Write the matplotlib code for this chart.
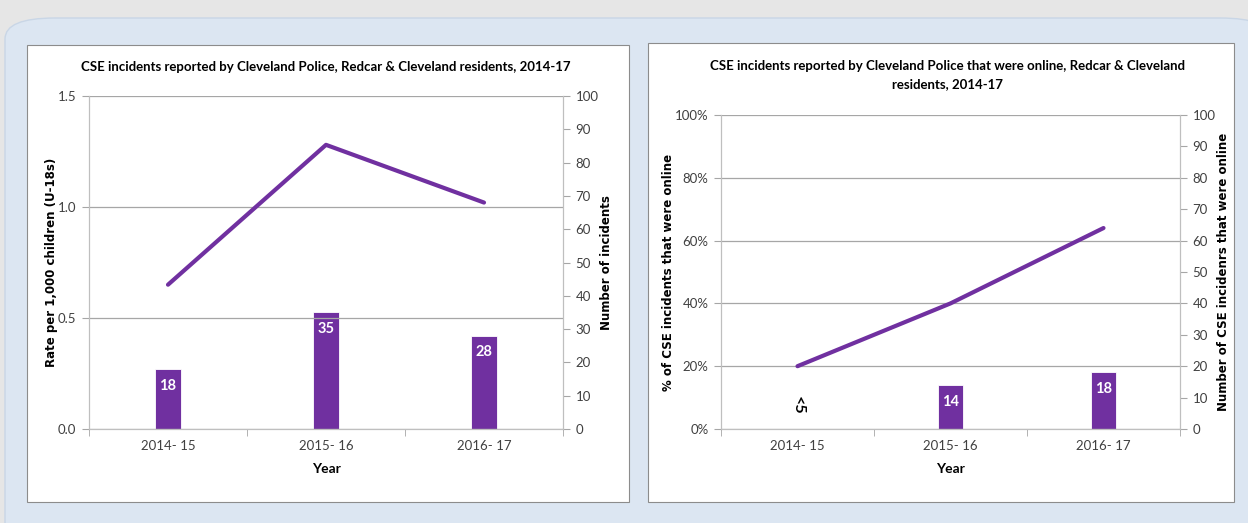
import matplotlib.pyplot as plt
from matplotlib.patches import FancyBboxPatch, Rectangle

# Data
years = ['2014- 15', '2015- 16', '2016- 17']
rate_per_1000 = [0.65, 1.28, 1.02]
incidents = [18, 35, 28]
pct_online = [0.20, 0.40, 0.64]
online_incidents = [0, 14, 18]
online_labels = ['<5', '14', '18']

purple = '#7030a0'
grid_c = '#a6a6a6'
tick_c = '#404040'
narrow = ['Lato', 'DejaVu Sans']

fig = plt.figure(figsize=(12.48, 5.23), dpi=100)
fig.patch.set_facecolor('#e6e6e6')
W, H = 1248, 523


def box(x0, y0, x1, y1):
    return (x0 / W, 1 - y1 / H, (x1 - x0) / W, (y1 - y0) / H)


# blue rounded background
bx = box(5, 18, 1270, 560)
fig.patches.append(FancyBboxPatch((bx[0], bx[1]), bx[2], bx[3],
                                  boxstyle='round,pad=0,rounding_size=0.04',
                                  transform=fig.transFigure, facecolor='#dce6f2',
                                  edgecolor='#c9d6e6', lw=1, zorder=-3))
for b in [box(27, 45, 629, 502), box(648, 43, 1234, 502)]:
    fig.patches.append(Rectangle((b[0], b[1]), b[2], b[3], transform=fig.transFigure,
                                 facecolor='white', edgecolor='#8c8c8c', lw=0.8, zorder=-2))


def style(ax, ax2, ymax_left, left_ticks, left_fmt):
    ax.set_xlim(-0.5, 2.5)
    ax.set_ylim(0, ymax_left)
    ax2.set_ylim(0, 100)
    ax.set_yticks(left_ticks)
    ax.set_yticklabels([left_fmt(t) for t in left_ticks], family=narrow, fontsize=9.5, color=tick_c)
    ax2.set_yticks(range(0, 101, 10))
    ax2.set_yticklabels([str(t) for t in range(0, 101, 10)], family=narrow, fontsize=9.5, color=tick_c)
    ax.set_xticks(range(3))
    ax.set_xticklabels(years, family=narrow, fontsize=9.5, color=tick_c)
    ax.set_xticks([-0.5, 0.5, 1.5, 2.5], minor=True)
    ax.tick_params(axis='x', which='major', length=0, pad=8)
    ax.tick_params(axis='x', which='minor', length=5, color=grid_c)
    ax.tick_params(axis='y', length=5, color=grid_c, pad=4)
    ax2.tick_params(axis='y', length=5, color=grid_c, pad=4)
    ax.grid(axis='y', color=grid_c, lw=0.9)
    for a in (ax, ax2):
        a.spines['top'].set_visible(False)
        for s in ('left', 'bottom', 'right'):
            a.spines[s].set_color('#bfbfbf')
    ax.set_xlabel('Year', family=narrow, fontsize=10, fontweight='bold', labelpad=8)
    ax.set_zorder(ax2.get_zorder() + 1)
    ax.patch.set_visible(False)
    ax2.patch.set_visible(False)


def bar_labels(ax2, vals, labels):
    for i, (v, lab) in enumerate(zip(vals, labels)):
        if v > 0:
            ax2.annotate(lab, (i, v), xytext=(0, -12), textcoords='offset points',
                         ha='center', va='center', color='white', fontsize=10.5,
                         fontweight='bold', family=narrow)
        else:
            ax2.text(i, 7.5, lab, ha='center', va='center', rotation=270, color='black',
                     fontsize=11.5, fontweight='bold', family=narrow)


# Left chart
ax1 = fig.add_axes([89 / W, 1 - 429 / H, 474 / W, 333 / H])
ax1b = ax1.twinx()
ax1b.bar(range(3), incidents, width=0.165, color=purple, edgecolor='white', lw=0.6)
ax1.plot(range(3), rate_per_1000, color=purple, lw=3, solid_capstyle='round')
style(ax1, ax1b, 1.5, [0, 0.5, 1.0, 1.5], lambda t: f'{t:.1f}')
bar_labels(ax1b, incidents, [str(v) for v in incidents])
ax1.set_ylabel('Rate per 1,000 children (U-18s)', fontsize=8.5, fontweight='bold', labelpad=0)
ax1b.set_ylabel('Number of incidents', fontsize=8.5, fontweight='bold', labelpad=1)
fig.text(326 / W, 1 - 67 / H,
         'CSE incidents reported by Cleveland Police, Redcar & Cleveland residents, 2014-17',
         ha='center', va='center', family=narrow, fontsize=9.5, fontweight='bold')

# Right chart
ax2 = fig.add_axes([721 / W, 1 - 429 / H, 459 / W, 314 / H])
ax2b = ax2.twinx()
ax2b.bar(range(3), online_incidents, width=0.165, color=purple, edgecolor='white', lw=0.6)
ax2.plot(range(3), pct_online, color=purple, lw=3, solid_capstyle='round')
style(ax2, ax2b, 1.0, [0, 0.2, 0.4, 0.6, 0.8, 1.0], lambda t: f'{t:.0%}')
bar_labels(ax2b, online_incidents, online_labels)
ax2.set_ylabel('% of CSE incidents that were online', fontsize=8.5, fontweight='bold', labelpad=0)
ax2b.set_ylabel('Number of CSE incidenrs that were online', fontsize=8.5, fontweight='bold', labelpad=1)
fig.text(947 / W, 1 - 75 / H,
         'CSE incidents reported by Cleveland Police that were online, Redcar & Cleveland\nresidents, 2014-17',
         ha='center', va='center', family=narrow, fontsize=9.5, fontweight='bold', linespacing=1.6)

fig.savefig('out.png', dpi=100, facecolor=fig.get_facecolor())
